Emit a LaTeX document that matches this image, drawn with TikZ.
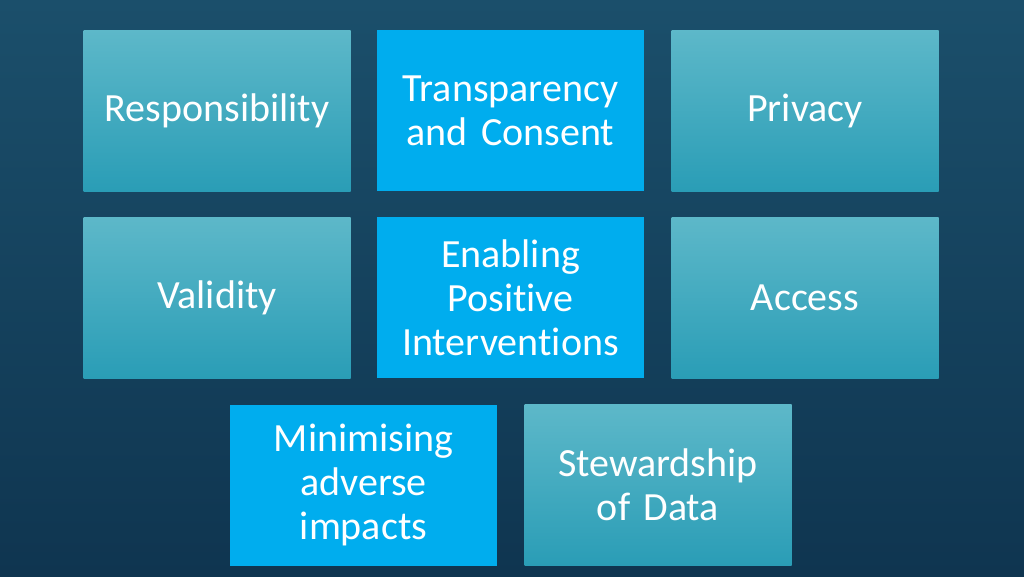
\documentclass[tikz,border=0pt]{standalone}
\usepackage{fontspec}
\setmainfont[Ligatures=NoCommon, WordSpace=0.8]{Carlito}
\definecolor{bgtop}{HTML}{1B4F6B}
\definecolor{bgbot}{HTML}{0F3550}
\definecolor{tealtop}{HTML}{5DB8C9}
\definecolor{tealbot}{HTML}{2A9DB6}
\definecolor{brightbox}{HTML}{00ADEE}
\tikzset{
  tile/.style={minimum width=267pt, minimum height=161pt, inner sep=0pt,
    text width=260pt, align=center, text=white,
    font=\fontsize{40}{44}\selectfont},
  tealtile/.style={tile, top color=tealtop, bottom color=tealbot},
  brighttile/.style={tile, fill=brightbox}
}
\begin{document}
\begin{tikzpicture}[x=1pt, y=-1pt]
	\shade[top color=bgtop, bottom color=bgbot] (0,0) rectangle (1024,576);
	\useasboundingbox (0,0) rectangle (1024,576);
	% row 1
	\node[tealtile] (resp) at (217, 110.5) {Responsibility};
	\node[brighttile] (trans) at (510.5, 110.5) {Transparency\\and Consent};
	\node[tealtile] (priv) at (805, 110.5) {Privacy};
	% row 2
	\node[tealtile] (valid) at (217, 297.5) {Validity};
	\node[brighttile] (enab) at (510.5, 297.5) {Enabling\\Positive\\Interventions};
	\node[tealtile] (access) at (805, 297.5) {Access};
	% row 3
	\node[brighttile] (minim) at (363.5, 485) {Minimising\\adverse\\impacts};
	\node[tealtile] (stew) at (658, 485) {Stewardship\\of Data};
\end{tikzpicture}
\end{document}
